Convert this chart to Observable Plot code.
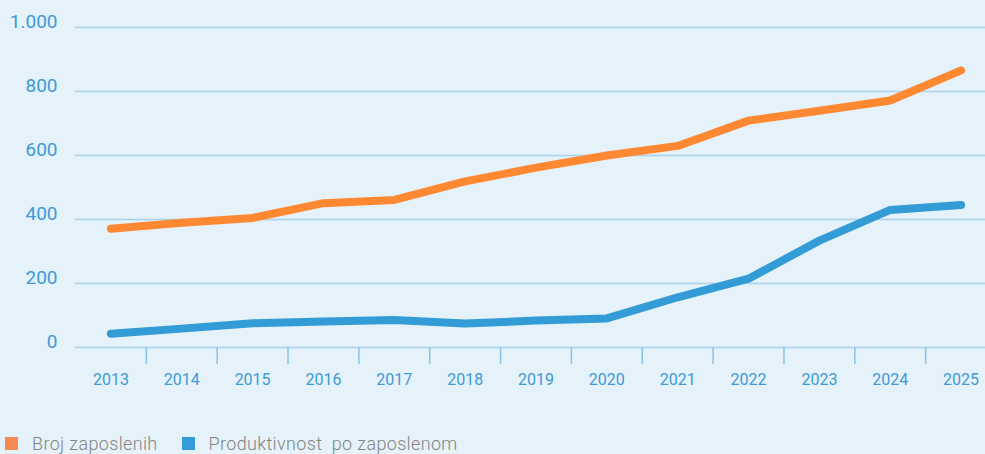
<!DOCTYPE html>
<html>
<head>
<meta charset="utf-8">
<script src="https://cdn.jsdelivr.net/npm/d3@7"></script>
<script src="https://cdn.jsdelivr.net/npm/@observablehq/plot@0.6"></script>
<style>
  html, body { margin: 0; padding: 0; background: #e5f2fa; width: 985px; height: 454px; overflow: hidden; font-family: Roboto, sans-serif; }
  #chart { position: absolute; left: 0; top: 0; }
  #chart svg { display: block; }
  .legend { position: absolute; left: 5px; top: 433px; display: flex; align-items: center; font-size: 18px; letter-spacing: 0.35px; color: #838383; font-weight: 300; white-space: pre; }
  .legend .sw { display: inline-block; width: 13px; height: 13px; margin-right: 14px; }
  .legend .item { display: flex; align-items: center; margin-right: 24px; }
</style>
</head>
<body>
<div id="chart"></div>
<div class="legend" id="legend"></div>
<script>
const years = [2013, 2014, 2015, 2016, 2017, 2018, 2019, 2020, 2021, 2022, 2023, 2024, 2025];
const brojZaposlenih = [371, 390, 405, 451, 461, 519, 562, 600, 630, 709, 740, 772, 866];
const produktivnost = [43, 59, 76, 81, 86, 75, 84, 91, 157, 215, 334, 430, 445];
const seriesNames = ["Broj zaposlenih", "Produktivnost  po zaposlenom"];
const seriesColors = ["#ff8833", "#339bd6"];
const legendColors = ["#f58a55", "#339bd6"];
const yTicks = [0, 200, 400, 600, 800, 1000];
const yTickLabels = ["0", "200", "400", "600", "800", "1.000"];

const data = years.flatMap((year, i) => [
  {year, value: brojZaposlenih[i], series: seriesNames[0]},
  {year, value: produktivnost[i], series: seriesNames[1]}
]);
const boundaries = years.slice(1).map(y => y - 0.5);

const chart = Plot.plot({
  width: 985,
  height: 400,
  marginTop: 27,
  marginBottom: 53,
  marginLeft: 75,
  marginRight: 0,
  style: {background: "transparent", fontFamily: "Roboto, sans-serif", overflow: "visible"},
  x: {type: "linear", domain: [2012.5, 2025.5], range: [75, 996], label: null},
  y: {domain: [0, 1000], range: [347, 27], label: null},
  color: {domain: seriesNames, range: seriesColors},
  marks: [
    Plot.gridY(yTicks, {stroke: "#a9d3ec", strokeOpacity: 1, strokeWidth: 1.5}),
    Plot.axisY(yTicks, {tickSize: 0, tickPadding: 18, dy: -6, fontSize: 19, fill: "#3d9ad6", label: null, tickFormat: d => yTickLabels[yTicks.indexOf(d)]}),
    Plot.axisX(boundaries, {tickSize: 17, text: null, label: null, stroke: "#86c2e6", strokeWidth: 1.5, strokeOpacity: 1}),
    Plot.axisX(years, {tickSize: 0, tickPadding: 26, fontSize: 16, fill: "#3d9ad6", label: null, tickFormat: d => String(d)}),
    Plot.line(data, {x: "year", y: "value", z: "series", stroke: "series", strokeWidth: 8, strokeLinecap: "round", strokeLinejoin: "round"})
  ]
});
document.getElementById("chart").append(chart);

const legend = document.getElementById("legend");
seriesNames.forEach((name, i) => {
  const item = document.createElement("span");
  item.className = "item";
  const sw = document.createElement("span");
  sw.className = "sw";
  sw.style.background = legendColors[i];
  item.append(sw, document.createTextNode(name));
  legend.append(item);
});
</script>
</body>
</html>
